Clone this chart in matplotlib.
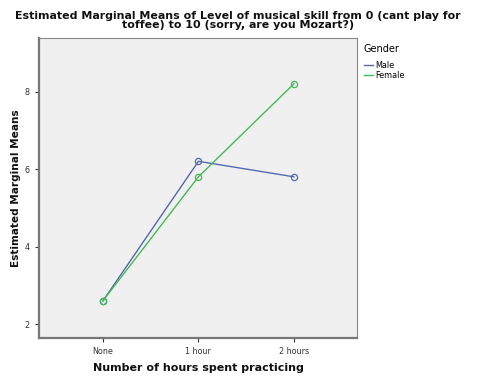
import matplotlib
matplotlib.use("Agg")
import matplotlib.pyplot as plt
from matplotlib.lines import Line2D

# data
categories = ["None", "1 hour", "2 hours"]
male_means = [2.6, 6.2, 5.8]
female_means = [2.6, 5.8, 8.2]
y_ticks = [2, 4, 6, 8]

MALE_COLOR = "#5468b0"
FEMALE_COLOR = "#45bb55"

fig = plt.figure(figsize=(4.78, 3.83), dpi=100)
ax = fig.add_axes([0.0816, 0.1175, 0.665, 0.782])
ax.set_facecolor("#f0f0f0")

x = list(range(len(categories)))
ax.plot(x, male_means, color=MALE_COLOR, lw=1.0, marker="o", ms=4.5,
        mfc="none", mec=MALE_COLOR, mew=0.9, label="Male")
ax.plot(x, female_means, color=FEMALE_COLOR, lw=1.0, marker="o", ms=4.5,
        mfc="none", mec=FEMALE_COLOR, mew=0.9, label="Female")

ax.set_xlim(-0.67, 2.66)
ax.set_ylim(1.64, 9.37)
ax.set_xticks(x)
ax.set_xticklabels(categories)
ax.set_yticks(y_ticks)
ax.tick_params(labelsize=5.8, colors="#333333", length=3, width=0.8)

for side in ["left", "bottom"]:
    ax.spines[side].set_color("#777777")
    ax.spines[side].set_linewidth(1.6)
for side in ["top", "right"]:
    ax.spines[side].set_color("#888888")
    ax.spines[side].set_linewidth(0.8)

ax.set_xlabel("Number of hours spent practicing", fontsize=8, fontweight="bold",
              color="#111111", labelpad=5)
ax.set_ylabel("Estimated Marginal Means", fontsize=7.6, fontweight="bold",
              color="#111111", labelpad=2.5)

fig.text(0.498, 0.972,
         "Estimated Marginal Means of Level of musical skill from 0 (cant play for\n"
         "toffee) to 10 (sorry, are you Mozart?)",
         ha="center", va="top", fontsize=7.9, fontweight="bold",
         color="#111111", linespacing=0.95)

handles = [Line2D([], [], color=MALE_COLOR, lw=1.0),
           Line2D([], [], color=FEMALE_COLOR, lw=1.0)]
leg = fig.legend(handles, ["Male", "Female"], title="Gender",
                 loc="upper left", bbox_to_anchor=(0.754, 0.893),
                 frameon=False, fontsize=5.8, title_fontsize=7,
                 handlelength=1.2, handletextpad=0.3, labelspacing=0.1,
                 borderaxespad=0)
leg._legend_box.align = "left"
leg._legend_box.sep = 5

fig.savefig("out.png", dpi=100)
